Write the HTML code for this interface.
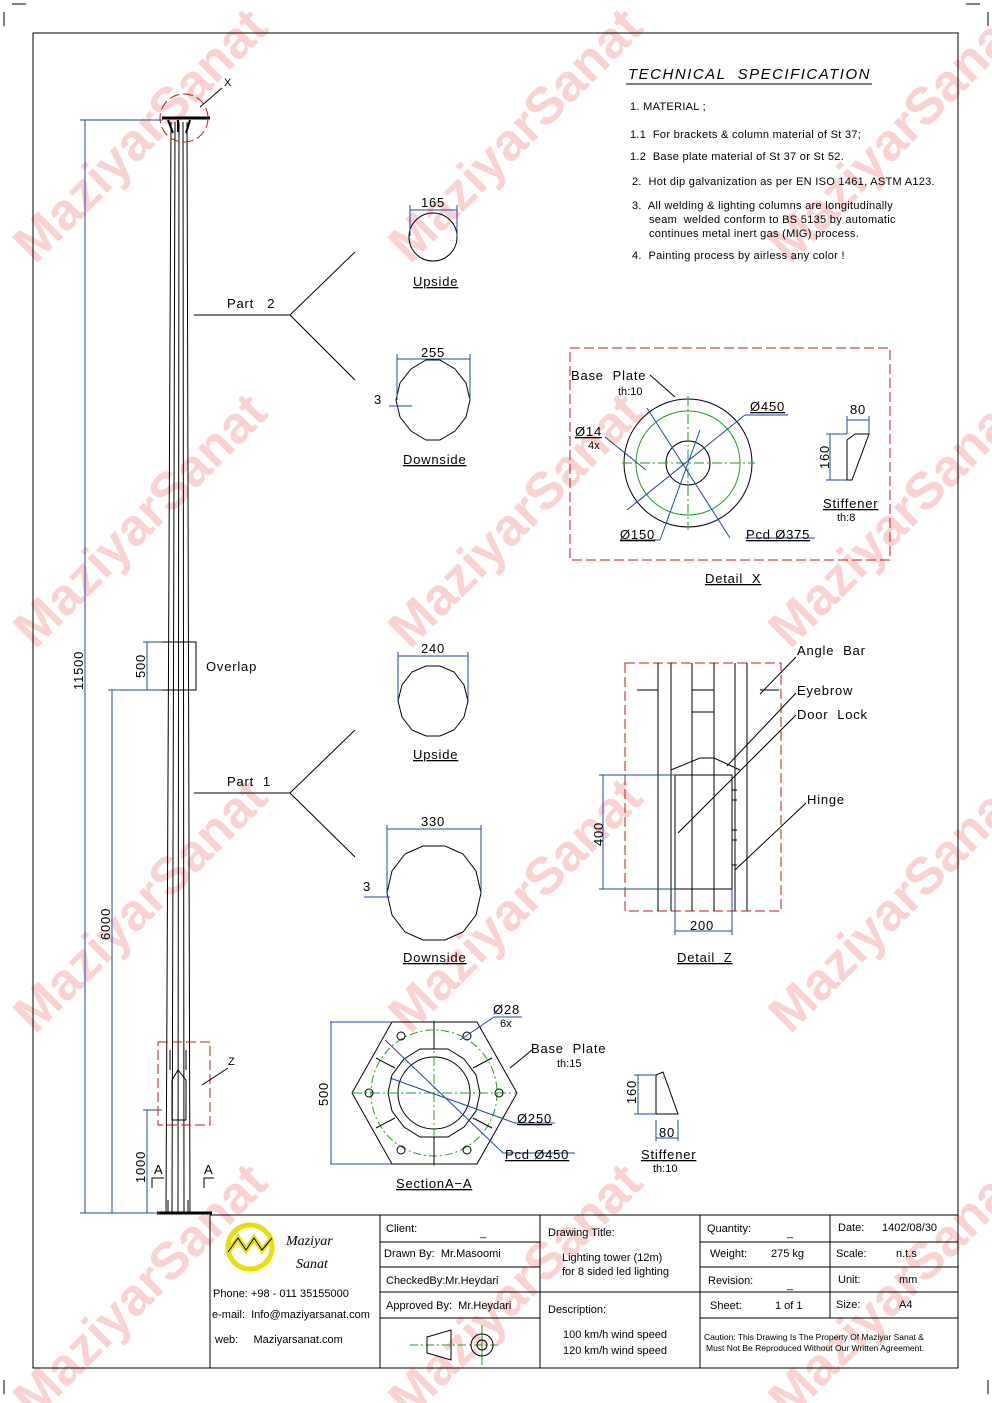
<!DOCTYPE html>
<html><head><meta charset="utf-8"><style>
html,body{margin:0;padding:0;background:#fff;}
svg{display:block;font-family:"Liberation Sans",sans-serif;white-space:pre;}
text{white-space:pre;}
.wm{font:bold 52px "Liberation Sans",sans-serif;fill:#fbd2d2;}
.t{font-size:13px;fill:#000;letter-spacing:0.8px;}
.s{font-size:11px;fill:#000;}
.b{stroke:#1f47a8;fill:none;stroke-width:1;}
.k{stroke:#000;fill:none;stroke-width:1;}
.g{stroke:#1aa31a;fill:none;stroke-width:1;stroke-dasharray:10 3 2 3;}
.r{stroke:#c41a1a;fill:none;stroke-width:1;stroke-dasharray:10 4;}
</style></head><body>
<svg width="992" height="1403" viewBox="0 0 992 1403" xmlns="http://www.w3.org/2000/svg" xml:space="preserve">
<g>
<text class="wm" transform="translate(35,265) rotate(-45)">MaziyarSanat</text>
<text class="wm" transform="translate(410,265) rotate(-45)">MaziyarSanat</text>
<text class="wm" transform="translate(790,265) rotate(-45)">MaziyarSanat</text>
<text class="wm" transform="translate(35,650) rotate(-45)">MaziyarSanat</text>
<text class="wm" transform="translate(410,650) rotate(-45)">MaziyarSanat</text>
<text class="wm" transform="translate(790,650) rotate(-45)">MaziyarSanat</text>
<text class="wm" transform="translate(35,1035) rotate(-45)">MaziyarSanat</text>
<text class="wm" transform="translate(410,1035) rotate(-45)">MaziyarSanat</text>
<text class="wm" transform="translate(790,1035) rotate(-45)">MaziyarSanat</text>
<text class="wm" transform="translate(35,1420) rotate(-45)">MaziyarSanat</text>
<text class="wm" transform="translate(410,1420) rotate(-45)">MaziyarSanat</text>
<text class="wm" transform="translate(790,1420) rotate(-45)">MaziyarSanat</text>
</g>
<rect x="33" y="33" width="925" height="1335" class="k"/>
<path d="M4 12V26M12 4H26M988 12V26M966 4H980M4 1380V1394M988 1380V1394" class="k"/>

<g class="k">
<path d="M171 122 L166 1213 M175 122 L172 1213 M179 122 L178 1213 M183 122 L184 1213 M187 122 L190 1213"/>
<path d="M162 118 H210" stroke-width="3"/>
<path d="M168 120 L173 133 M190 120 L186 133 M178 120 V132" stroke-width="2"/>
<path d="M157 1213 H212" stroke-width="3"/>
<path d="M160 642 H196 V690 H160" />
<path d="M170 1050 V1070 M186 1050 V1070 M172 1080 L178 1070 L186 1080 M172 1080 V1120 H186 V1080"/>
<path d="M168 1200 V1213 M188 1200 V1213"/>
</g>
<circle cx="184" cy="118" r="24" class="r"/>
<rect x="158" y="1042" width="52" height="83" class="r"/>
<path d="M222 88 L200 107" class="k"/><text x="224" y="86" class="s">X</text>
<path d="M228 1068 L202 1085" class="k"/><text x="228" y="1065" class="s">Z</text>
<path d="M152 1188 V1178 H164 M204 1188 V1178 H214" class="k"/>
<text x="154" y="1174" class="t">A</text><text x="204" y="1174" class="t">A</text>

<g class="b">
<path d="M85 120 V1213 M80 120 H162 M80 1213 H160"/>
<path d="M112 690 V1213 M108 690 H162"/>
<path d="M147 642 V690 M143 642 H162"/>
<path d="M147 1110 V1213 M143 1110 H162"/>
</g>
<text transform="translate(83,690) rotate(-90)" class="t">11500</text>
<text transform="translate(110,940) rotate(-90)" class="t">6000</text>
<text transform="translate(145,678) rotate(-90)" class="t">500</text>
<text transform="translate(145,1183) rotate(-90)" class="t">1000</text>
<text x="206" y="671" class="t">Overlap</text>

<g class="k">
<path d="M194 315 H290 L355 252 M290 315 L355 380"/>
<path d="M194 793 H290 L355 730 M290 793 L355 857"/>
</g>
<text x="227" y="308" class="t">Part   2</text>
<text x="227" y="786" class="t">Part  1</text>

<circle cx="433" cy="237" r="24" class="k" stroke-width="1.5"/>
<path d="M410 210 H457 M410 205 V236 M457 205 V236" class="b"/>
<text x="421" y="207" class="t">165</text>
<text x="413" y="286" class="t" text-decoration="underline">Upside</text>

<polygon points="470,400 466,417 455,431 440,440 426,440 411,431 400,417 396,400 400,383 411,369 426,360 440,360 455,369 466,383" class="k" stroke-width="1.5"/>
<path d="M397 359 H470 M397 354 V400 M470 354 V400 M389 406 H412" class="b"/>
<text x="421" y="357" class="t">255</text>
<text x="374" y="404" class="t">3</text>
<text x="403" y="464" class="t" text-decoration="underline">Downside</text>

<polygon points="468,701 464,717 454,730 440,736 426,736 412,730 402,717 398,701 402,685 412,672 426,666 440,666 454,672 464,685" class="k" stroke-width="1.5"/>
<path d="M398 656 H468 M398 652 V700 M468 652 V700" class="b"/>
<text x="421" y="653" class="t">240</text>
<text x="413" y="759" class="t" text-decoration="underline">Upside</text>

<polygon points="481,893 476,915 463,932 445,940 423,940 405,932 392,915 387,893 392,871 405,854 423,846 445,846 463,854 476,871" class="k" stroke-width="1.5"/>
<path d="M387 829 H481 M387 825 V893 M481 825 V893 M364 897 H390" class="b"/>
<text x="421" y="826" class="t">330</text>
<text x="363" y="891" class="t">3</text>
<text x="403" y="962" class="t" text-decoration="underline">Downside</text>

<text x="628" y="79" style="font-size:15px;font-style:italic;letter-spacing:1.5px">TECHNICAL  SPECIFICATION</text>
<path d="M626 84 H872" class="k"/>
<g class="s" style="letter-spacing:0.3px">
<text x="630" y="110">1. MATERIAL ;</text>
<text x="630" y="138">1.1  For brackets &amp; column material of St 37;</text>
<text x="630" y="160">1.2  Base plate material of St 37 or St 52.</text>
<text x="632" y="185">2.  Hot dip galvanization as per EN ISO 1461, ASTM A123.</text>
<text x="632" y="209">3.  All welding &amp; lighting columns are longitudinally</text>
<text x="649" y="223">seam  welded conform to BS 5135 by automatic</text>
<text x="649" y="237">continues metal inert gas (MIG) process.</text>
<text x="632" y="259">4.  Painting process by airless any color !</text>
</g>

<rect x="570" y="348" width="320" height="212" class="r"/>
<circle cx="688" cy="463" r="64" class="k"/>
<circle cx="688" cy="463" r="52" stroke="#1aa31a" fill="none"/>
<circle cx="688" cy="463" r="22" class="k"/>
<path d="M622 463 H755 M688 396 V530" class="g"/>
<g class="b">
<path d="M647 408 L730 538 M627 510 L745 415 M660 540 L700 430 M605 437 L646 470 M745 538 H815 M745 415 H788 M620 540 H660"/>
</g>
<path d="M650 375 L675 397" class="k"/>
<text x="571" y="380" class="t">Base  Plate</text><text x="618" y="395" class="s">th:10</text>
<text x="750" y="411" class="t" text-decoration="underline">Ø450</text>
<text x="575" y="436" class="t" text-decoration="underline">Ø14</text><text x="588" y="449" class="s">4x</text>
<text x="620" y="539" class="t" text-decoration="underline">Ø150</text>
<text x="746" y="539" class="t" text-decoration="underline">Pcd Ø375</text>
<path d="M847 440 L855 434 H869 L852 480 H847 Z" class="k"/>
<path d="M847 420 H869 M847 416 V434 M869 416 V434 M830 434 V480 M826 434 H847 M826 480 H847" class="b"/>
<text x="850" y="414" class="t">80</text>
<text transform="translate(829,469) rotate(-90)" class="t">160</text>
<text x="823" y="508" class="t" text-decoration="underline">Stiffener</text><text x="837" y="521" class="s">th:8</text>
<text x="705" y="583" class="t" text-decoration="underline">Detail  X</text>

<rect x="625" y="663" width="156" height="248" class="r"/>
<g class="k">
<path d="M658 663 V911 M671 663 V911 M692 663 V911 M714 663 V911 M735 663 V911 M747 663 V911"/>
<path d="M637 690 H658 V711 M760 690 H779 M747 690 V711 M692 690 H714 M692 712 H714"/>
<path d="M671 770 L700 758 H714 L740 770 M692 755 V758 M714 755 V758"/>
<rect x="675" y="775" width="57" height="114"/>
<path d="M732 790 H737 M732 800 H737 M732 830 H737 M732 840 H737 M732 865 H737"/>
<path d="M678 833 L796 715 M727 766 L796 693 M735 870 L806 803 M760 694 L796 657"/>
</g>
<path d="M603 775 V889 M599 775 H675 M599 889 H675 M675 931 H732 M675 889 V935 M732 889 V935" class="b"/>
<text transform="translate(603,846) rotate(-90)" class="t">400</text>
<text x="690" y="930" class="t">200</text>
<text x="797" y="655" class="t">Angle  Bar</text>
<text x="797" y="695" class="t">Eyebrow</text>
<text x="797" y="719" class="t">Door  Lock</text>
<text x="807" y="804" class="t">Hinge</text>
<text x="677" y="962" class="t" text-decoration="underline">Detail  Z</text>

<polygon points="392,1022 477,1022 517,1093 477,1164 392,1164 352,1093" class="k"/>
<circle cx="434" cy="1093" r="63" stroke="#1aa31a" fill="none" stroke-dasharray="8 3 2 3"/>
<polygon points="480,1093 476,1111 464,1127 448,1137 420,1137 404,1127 392,1111 388,1093 392,1075 404,1059 420,1049 448,1049 464,1059 476,1075" class="k" stroke-width="2"/>
<circle cx="434" cy="1093" r="36" class="k"/>
<path d="M352 1093 H517 M434 1020 V1166" class="g"/>
<path d="M434 1022 V1049 M434 1137 V1164 M376 1058 L395 1068 M376 1128 L395 1118 M492 1058 L473 1068 M492 1128 L473 1118" class="k"/>
<g class="k">
<circle cx="401" cy="1036" r="4"/><circle cx="467" cy="1036" r="4"/>
<circle cx="369" cy="1093" r="4"/><circle cx="499" cy="1093" r="4"/>
<circle cx="401" cy="1150" r="4"/><circle cx="467" cy="1150" r="4"/>
</g>
<path d="M330 1022 H392 M330 1164 H392 M331 1022 V1164 M385 1040 L503 1153 H575 M390 1078 L515 1123 H555 M460 1040 L494 1017 H522" class="b"/>
<path d="M510 1068 L532 1050" class="k"/>
<text transform="translate(328,1106) rotate(-90)" class="t">500</text>
<text x="493" y="1014" class="t">Ø28</text><text x="500" y="1027" class="s">6x</text>
<text x="531" y="1053" class="t">Base  Plate</text><text x="557" y="1067" class="s">th:15</text>
<text x="517" y="1123" class="t" text-decoration="underline">Ø250</text>
<text x="505" y="1159" class="t" text-decoration="underline">Pcd Ø450</text>
<text x="396" y="1188" class="t" text-decoration="underline">SectionA−A</text>
<path d="M656 1075 L663 1072 L678 1114 H656 Z" class="k"/>
<path d="M656 1138 H678 M656 1120 V1141 M678 1120 V1141 M638 1075 V1114 M634 1075 H656 M634 1114 H656" class="b"/>
<text transform="translate(636,1104) rotate(-90)" class="t">160</text>
<text x="659" y="1137" class="t">80</text>
<text x="641" y="1159" class="t" text-decoration="underline">Stiffener</text><text x="653" y="1172" class="s">th:10</text>

<g class="k">
<path d="M210 1215 H958 M210 1215 V1368 M380 1215 V1368 M540 1215 V1368 M700 1215 V1368 M830 1215 V1318"/>
<path d="M380 1242 H540 M380 1267 H540 M380 1292 H540 M380 1318 H540"/>
<path d="M540 1292 H700"/>
<path d="M700 1242 H958 M700 1267 H958 M700 1292 H958 M700 1318 H958"/>
</g>
<circle cx="250" cy="1247" r="22" fill="none" stroke="#e8e000" stroke-width="5"/>
<path d="M228 1252 L238 1238 L246 1250 L254 1238 L262 1250 L272 1238" fill="none" stroke="#e8e000" stroke-width="5"/>
<path d="M228 1252 L238 1238 L246 1250 L254 1238 L262 1250 L272 1238" fill="none" stroke="#000" stroke-width="1"/>
<text x="286" y="1245" style="font:italic 14px 'Liberation Serif',serif">Maziyar</text>
<text x="296" y="1268" style="font:italic 14px 'Liberation Serif',serif">Sanat</text>
<g class="s">
<text x="213" y="1297">Phone: +98 - 011 35155000</text>
<text x="212" y="1318">e-mail:  Info@maziyarsanat.com</text>
<text x="215" y="1343">web:     Maziyarsanat.com</text>
<text x="386" y="1232">Client:</text><text x="480" y="1236">_</text>
<text x="384" y="1257">Drawn By:  Mr.Masoomi</text>
<text x="386" y="1284">CheckedBy:Mr.Heydari</text>
<text x="386" y="1309">Approved By:  Mr.Heydari</text>
<text x="548" y="1236">Drawing Title:</text>
<text x="562" y="1261">Lighting tower (12m)</text>
<text x="562" y="1275">for 8 sided led lighting</text>
<text x="548" y="1313">Description:</text>
<text x="563" y="1338">100 km/h wind speed</text>
<text x="563" y="1354">120 km/h wind speed</text>
<text x="707" y="1232">Quantity:</text><text x="787" y="1236">_</text>
<text x="710" y="1257">Weight:</text><text x="771" y="1257">275 kg</text>
<text x="708" y="1284">Revision:</text><text x="787" y="1288">_</text>
<text x="710" y="1309">Sheet:</text><text x="775" y="1309">1 of 1</text>
<text x="838" y="1231">Date:</text><text x="882" y="1231">1402/08/30</text>
<text x="836" y="1257">Scale:</text><text x="896" y="1257">n.t.s</text>
<text x="838" y="1283">Unit:</text><text x="899" y="1283">mm</text>
<text x="836" y="1308">Size:</text><text x="899" y="1308">A4</text>
</g>
<text x="704" y="1340" style="font-size:8.5px">Caution: This Drawing Is The Property Of Maziyar Sanat &amp;</text>
<text x="706" y="1351" style="font-size:8.5px">Must Not Be Reproduced Without Our Written Agreement.</text>
<path d="M410 1345 H500" stroke="#1aa31a" stroke-dasharray="8 3 2 3"/>
<path d="M482 1325 V1365" stroke="#1aa31a"/>
<path d="M427 1337 L451 1330 V1360 L427 1353 Z" class="k"/>
<circle cx="482" cy="1345" r="11" class="k"/><circle cx="482" cy="1345" r="5" class="k"/>
</svg>
</body></html>
